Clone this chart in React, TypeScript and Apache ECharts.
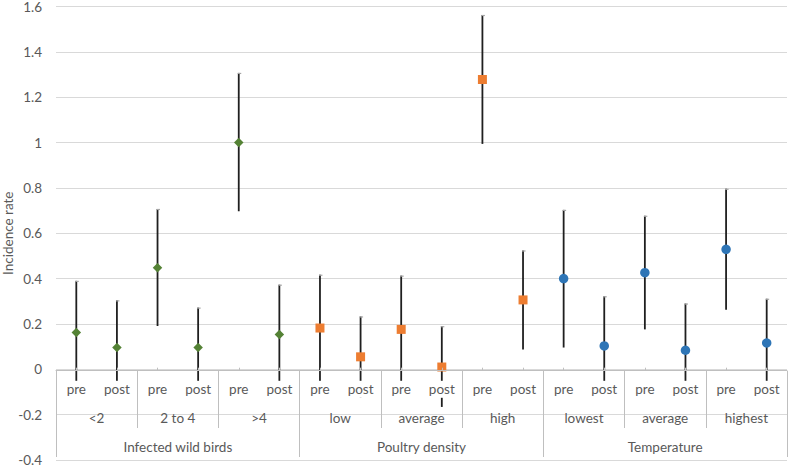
import React, { useEffect, useRef } from "react";
import * as echarts from "echarts";

const prePost = ["pre", "post", "pre", "post", "pre", "post", "pre", "post", "pre", "post", "pre", "post", "pre", "post", "pre", "post", "pre", "post"];
const subgroups = ["<2", "2 to 4", ">4", "low", "average", "high", "lowest", "average", "highest"];
const groups = ["Infected wild birds", "Poultry density", "Temperature"];

const birdValues = [0.162, 0.096, 0.448, 0.096, 1.0, 0.154];
const birdLow = [-0.08, -0.08, 0.191, -0.08, 0.697, -0.08];
const birdHigh = [0.39, 0.304, 0.707, 0.272, 1.307, 0.373];

const poultryValues = [0.182, 0.055, 0.176, 0.01, 1.278, 0.306];
const poultryLow = [-0.08, -0.125, -0.08, -0.166, 0.994, 0.087];
const poultryHigh = [0.417, 0.233, 0.413, 0.19, 1.5625, 0.524];

const tempValues = [0.4, 0.103, 0.426, 0.084, 0.529, 0.116];
const tempLow = [0.096, -0.08, 0.176, -0.08, 0.263, -0.08];
const tempHigh = [0.703, 0.322, 0.677, 0.29, 0.796, 0.311];

const yTicks = { min: -0.4, max: 1.6, interval: 0.2 };

const FONT = "Lato";
const TEXT = "#595959";

function pts(vals: number[], offset: number) {
  return vals.map((v, i) => [offset + i, v]);
}
function bars(lo: number[], hi: number[], offset: number) {
  return lo.map((l, i) => [offset + i, l, hi[i]]);
}

export default function App() {
  const ref = useRef<HTMLDivElement>(null);
  useEffect(() => {
    document.body.style.margin = "0";
    const chart = echarts.init(ref.current!, undefined, { renderer: "svg" });
    const errorData = [
      ...bars(birdLow, birdHigh, 0),
      ...bars(poultryLow, poultryHigh, 6),
      ...bars(tempLow, tempHigh, 12),
    ];
    const labelData = prePost.map((_, i) => [i, 0]);
    chart.setOption({
      animation: false,
      textStyle: { fontFamily: FONT },
      grid: { left: 56, right: 1, top: 6.5, bottom: 7, containLabel: false, outerBoundsMode: "none" },
      yAxis: {
        type: "value",
        min: yTicks.min,
        max: yTicks.max,
        interval: yTicks.interval,
        name: "Incidence rate",
        nameLocation: "middle",
        nameGap: 41,
        nameMoveOverlap: false,
        nameTextStyle: { color: TEXT, fontSize: 13.5, fontFamily: FONT },
        axisLine: { show: false },
        axisTick: { show: false },
        axisLabel: { color: TEXT, fontSize: 13.5, fontFamily: FONT, margin: 14 },
        splitLine: { lineStyle: { color: "#d9d9d9", width: 1 } },
      },
      xAxis: [
        {
          type: "category",
          data: prePost,
          position: "bottom",
          offset: -89.3,
          z: 10,
          boundaryGap: true,
          axisLine: { onZero: false, lineStyle: { color: "#bfbfbf", width: 1 } },
          axisTick: { show: true, inside: true, alignWithLabel: true, length: 3, interval: 0, lineStyle: { color: "#bfbfbf" } },
          axisLabel: { show: false },
          splitLine: { show: false },
        },
        {
          type: "category",
          data: subgroups,
          position: "bottom",
          offset: -32,
          z: 10,
          axisLine: { show: false, onZero: false },
          axisTick: { show: true, inside: true, length: 57, interval: 0, lineStyle: { color: "#bfbfbf" } },
          axisLabel: { interval: 0, color: TEXT, fontSize: 13.5, fontFamily: FONT, margin: -10, verticalAlign: "middle" },
          splitLine: { show: false },
        },
        {
          type: "category",
          data: groups,
          position: "bottom",
          offset: -3,
          z: 10,
          axisLine: { show: false, onZero: false },
          axisTick: { show: true, inside: true, length: 86, interval: 0, lineStyle: { color: "#bfbfbf" } },
          axisLabel: { interval: 0, color: TEXT, fontSize: 13.5, fontFamily: FONT, margin: -10, verticalAlign: "middle" },
          splitLine: { show: false },
        },
      ],
      series: [
        {
          type: "custom",
          xAxisIndex: 0,
          z: 1,
          data: errorData,
          encode: { x: 0, y: [1, 2] },
          renderItem: (params: any, api: any) => {
            const x = api.value(0);
            const pHi = api.coord([x, api.value(2)]);
            const pLo = api.coord([x, api.value(1)]);
            return {
              type: "group",
              children: [
                {
                  type: "line",
                  shape: { x1: pHi[0], y1: pHi[1], x2: pLo[0], y2: pLo[1] },
                  style: { stroke: "#1f1f1f", lineWidth: 1.8 },
                },
                {
                  type: "line",
                  shape: { x1: pHi[0] - 1, y1: pHi[1] + 0.5, x2: pHi[0] + 2.5, y2: pHi[1] + 0.5 },
                  style: { stroke: "#a6a6a6", lineWidth: 1.2 },
                },
              ],
            };
          },
        },
        {
          type: "custom",
          xAxisIndex: 0,
          z: 6,
          silent: true,
          data: labelData,
          encode: { x: 0, y: 1 },
          clip: false,
          renderItem: (params: any, api: any) => {
            const i = api.value(0);
            const p = api.coord([i, api.value(1)]);
            return {
              type: "text",
              x: p[0],
              y: p[1] + 20,
              z2: 10,
              style: {
                text: prePost[params.dataIndex],
                fill: TEXT,
                font: `13.5px ${FONT}`,
                align: "center",
                verticalAlign: "middle",
                backgroundColor: "#ffffff",
                padding: [2, 1, 1, 1],
              },
            };
          },
        },
        {
          type: "scatter",
          xAxisIndex: 0,
          z: 3,
          symbol: "diamond",
          symbolSize: 9.5,
          itemStyle: { color: "#548235", opacity: 1 },
          data: pts(birdValues, 0),
        },
        {
          type: "scatter",
          xAxisIndex: 0,
          z: 3,
          symbol: "rect",
          symbolSize: 9,
          itemStyle: { color: "#ED7D31", opacity: 1 },
          data: pts(poultryValues, 6),
        },
        {
          type: "scatter",
          xAxisIndex: 0,
          z: 3,
          symbol: "circle",
          symbolSize: 9.5,
          itemStyle: { color: "#2E75B6", opacity: 1 },
          data: pts(tempValues, 12),
        },
      ],
    });
    return () => chart.dispose();
  }, []);
  return <div ref={ref} style={{ width: 788, height: 467 }} />;
}
